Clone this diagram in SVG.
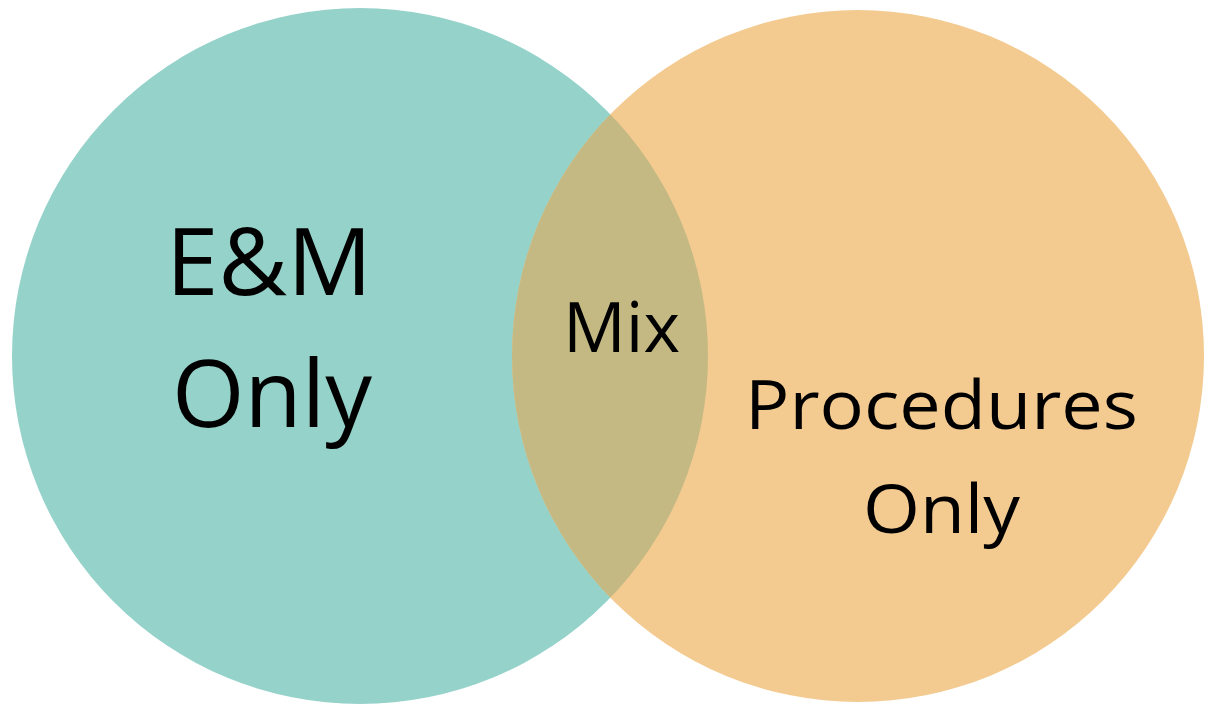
<svg xmlns="http://www.w3.org/2000/svg" width="1209" height="710" viewBox="0 0 1209 710">
  <style>
    .lbl { font-family: "Open Sans", "Liberation Sans", sans-serif; fill: #000000; text-anchor: middle; }
  </style>
  <defs>
    <clipPath id="clipLeft">
      <circle cx="360" cy="356" r="348"/>
    </clipPath>
  </defs>
  <rect width="1209" height="710" fill="#ffffff"/>
  <g id="em-only">
    <circle cx="360" cy="356" r="348" fill="#94D2CA"/>
  </g>
  <g id="procedures-only">
    <circle cx="858" cy="356" r="346" fill="#F3CA90"/>
  </g>
  <g id="mix">
    <circle cx="858" cy="356" r="346" fill="#C4B983" clip-path="url(#clipLeft)"/>
  </g>
  <g id="labels">
    <text class="lbl" x="269" y="295" font-size="94" textLength="206" lengthAdjust="spacingAndGlyphs">E&amp;M</text>
    <text class="lbl" x="272" y="427" font-size="94" textLength="200" lengthAdjust="spacingAndGlyphs">Only</text>
    <text class="lbl" x="621.5" y="352" font-size="70" textLength="117" lengthAdjust="spacingAndGlyphs">Mix</text>
    <text class="lbl" x="941.5" y="429" font-size="67" textLength="393" lengthAdjust="spacingAndGlyphs">Procedures</text>
    <text class="lbl" x="941.5" y="533" font-size="67" textLength="157" lengthAdjust="spacingAndGlyphs">Only</text>
  </g>
</svg>
